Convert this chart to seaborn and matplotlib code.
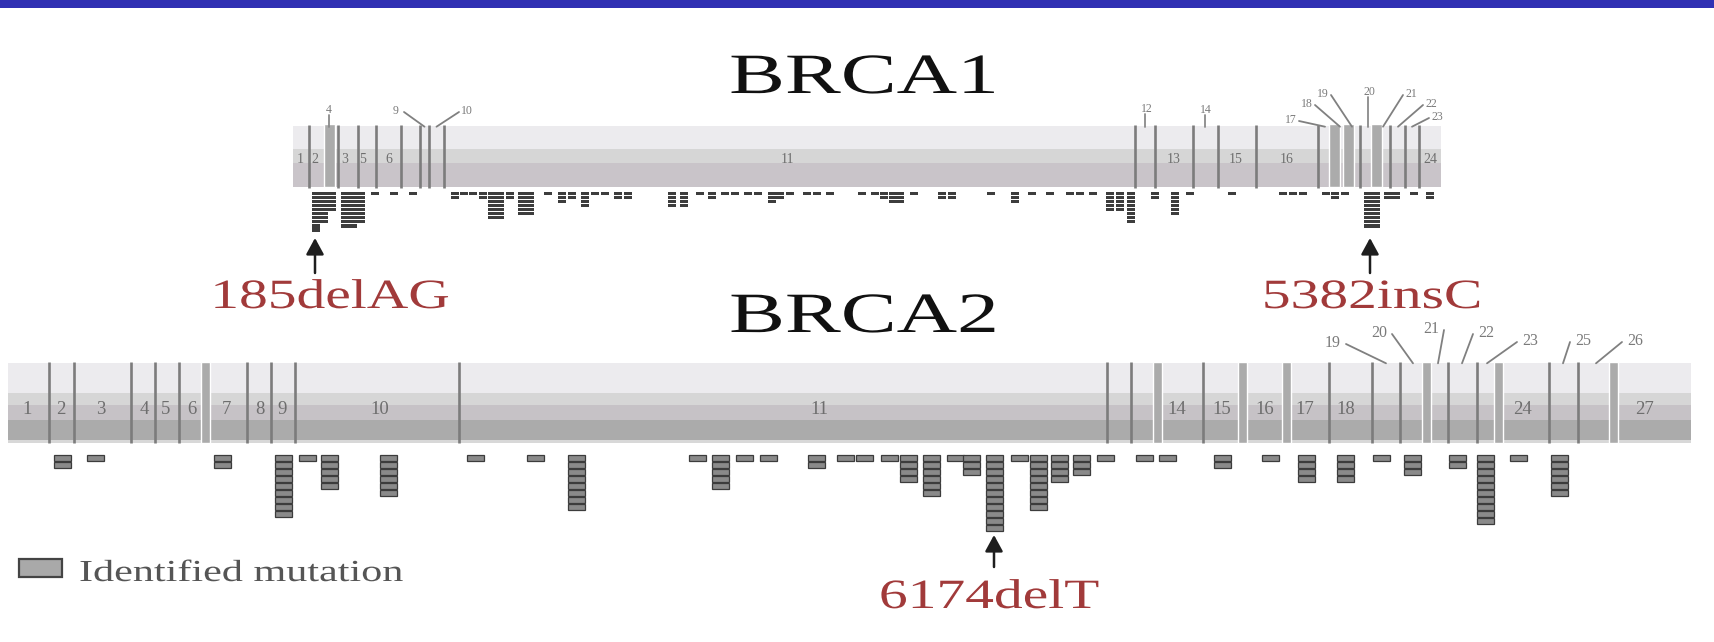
import numpy as np
import matplotlib
matplotlib.use("Agg")
import matplotlib.pyplot as plt
import matplotlib.colors as mcolors
from matplotlib.patches import Rectangle
from matplotlib.patheffects import AbstractPathEffect
from matplotlib.transforms import Affine2D
import seaborn as sns

# ------------------------------------------------------------------ data
# BRCA1 : positions along the drawn gene (relative units from the 5' end)
brca1_length = 1148
brca1_exon_bounds = [15.7, 45.2, 64.7, 83.4, 107.5, 126.7, 136.3, 150.8, 842.4, 862,
                     900.2, 924.5, 962.7, 1025.2, 1067.4, 1096.6, 1112, 1126.3]
brca1_small_exons = [36, 1041, 1055, 1083]
brca1_exon_labels = ["1", "2", "3", "5", "6", "11", "13", "15", "16", "24"]
brca1_exon_label_pos = [7, 22, 52, 70, 96, 494, 881, 943, 994, 1137]
brca1_tag_labels = ["4", "9", "10", "12", "14", "17", "18", "19", "20", "21", "22", "23"]
brca1_tag_target = [36, 131.5, 143.5, 852, 912, 1032, 1047, 1059, 1075, 1090, 1105, 1119]
brca1_mut_pos = [23, 31, 39, 52, 60, 68, 82, 101, 120, 162, 171, 180, 190, 199, 207, 217,
                 229, 237, 255, 269, 279, 292, 302, 312, 325, 335, 379, 391, 407, 419, 432,
                 442, 455, 465, 479, 487, 497, 514, 524, 537, 569, 582, 591, 600, 607, 621,
                 649, 659, 698, 722, 739, 757, 777, 787, 800, 817, 827, 838, 862, 882, 897,
                 939, 990, 1000, 1010, 1033, 1042, 1052, 1075, 1083, 1095, 1103, 1121, 1137]
brca1_mut_count = [10, 8, 5, 9, 9, 8, 1, 1, 1, 2, 1, 1, 2, 7, 7, 2,
                   6, 6, 1, 3, 2, 4, 1, 1, 2, 2, 4, 4, 1, 2, 1,
                   1, 1, 1, 3, 2, 1, 1, 1, 1, 1, 1, 2, 3, 3, 1,
                   2, 2, 1, 3, 1, 1, 1, 1, 1, 5, 5, 8, 2, 6, 1,
                   1, 1, 1, 1, 1, 2, 1, 9, 9, 2, 2, 1, 2]
brca1_hotspots = ["185delAG", "5382insC"]
brca1_hotspot_pos = [22, 1077]

# BRCA2
brca2_length = 1683
brca2_exon_bounds = [41, 66, 123.2, 147.2, 171.2, 238.9, 263, 286.8, 450.5, 1099, 1123.2,
                     1195.2, 1320.6, 1363.6, 1392.2, 1440.2, 1469, 1541.2, 1570]
brca2_small_exons = [197.7, 1149, 1234.5, 1278.5, 1418.5, 1490.5, 1605.3]
brca2_exon_labels = ["1", "2", "3", "4", "5", "6", "7", "8", "9", "10", "11",
                     "14", "15", "16", "17", "18", "24", "27"]
brca2_exon_label_pos = [19, 53, 93, 136, 158, 184, 218, 252, 274, 372, 811,
                        1169, 1214, 1257, 1297, 1338, 1515, 1637]
brca2_tag_labels = ["19", "20", "21", "22", "23", "25", "26"]
brca2_tag_target = [1378, 1405, 1430, 1454, 1479, 1555, 1588]
brca2_mut_pos = [54, 87, 214, 275, 299, 321, 380, 467, 527, 568, 689, 712, 736, 760, 808,
                 837, 856, 881, 900, 923, 947, 963, 986, 1011, 1030, 1051, 1073, 1097,
                 1136, 1159, 1214, 1262, 1298, 1337, 1373, 1404, 1449, 1477, 1510, 1551]
brca2_mut_count = [2, 1, 2, 9, 1, 5, 6, 1, 1, 8, 1, 5, 1, 1, 2,
                   1, 1, 1, 4, 6, 1, 3, 11, 1, 8, 4, 3, 1,
                   1, 1, 2, 1, 4, 4, 1, 3, 2, 10, 1, 6]
brca2_hotspots = ["6174delT"]
brca2_hotspot_pos = [986]

legend_label = "Identified mutation"

# ------------------------------------------------------------------ layout
W, H = 1714, 642
B1 = dict(x0=293, x1=1441, y0=85, y1=290)
B2 = dict(x0=8, x1=1691, y0=320, y1=575)
brca1_tag_x = [36, 103, 174, 854, 913, 998, 1014, 1030, 1076, 1118, 1138, 1144]
brca1_tag_ypx = [110, 111, 111, 109, 110, 120, 104, 94, 92, 94, 104, 117]
brca2_tag_x = [1325, 1371, 1423, 1478, 1522, 1575, 1627]
brca2_tag_ypx = [343, 333, 329, 333, 341, 341, 341]

sns.set_theme(style="white")
plt.rcParams["font.family"] = ["Liberation Serif", "DejaVu Serif"]

fig = plt.figure(figsize=(W / 100, H / 100), dpi=100, facecolor="white")


class HStretch(AbstractPathEffect):
    """Horizontally widen glyphs about the text anchor (text stays a Text artist)."""

    def __init__(self, sx):
        super().__init__()
        self.sx = sx
        self.text = None

    def draw_path(self, renderer, gc, tpath, affine, rgbFace=None):
        cx = self.text.get_transform().transform(self.text.get_position())[0]
        aff = affine + Affine2D().translate(-cx, 0).scale(self.sx, 1).translate(cx, 0)
        renderer.draw_path(gc, tpath, aff, rgbFace)


def stext(target, x, y, s, sx, **kw):
    t = target.text(x, y, s, **kw)
    pe = HStretch(sx)
    pe.text = t
    t.set_path_effects([pe])
    return t


def gene_axes(box, length):
    ax = fig.add_axes([box["x0"] / W, 1 - box["y1"] / H,
                       (box["x1"] - box["x0"]) / W, (box["y1"] - box["y0"]) / H])
    ax.set_xlim(0, length)
    ax.set_ylim(box["y1"] - box["y0"], 0)
    ax.axis("off")
    ax.patch.set_alpha(0)
    return ax


def band_image(spec):
    rows = []
    for color, n in spec:
        rows += [mcolors.to_rgb(color)] * n
    return np.array(rows)[:, None, :]


def draw_gene(ax, box, length, bar_px, bands, bounds, line_px, small, small_w, small_px,
              ex_labels, ex_pos, ex_base_px, ex_size, tags, tag_x, tag_ypx, tag_t, tag_size,
              tag_hw, mpos, mcount, mtop_px, unit, mh, mw, mface, medge, mlw,
              hs_names, hs_pos, arrow_px, hs_label_x, hs_base_px):
    y0 = box["y0"]
    top, bot = bar_px[0] - y0, bar_px[1] - y0
    ax.imshow(band_image(bands), extent=(0, length, bot, top), aspect="auto",
              interpolation="nearest", zorder=1)
    ax.set_xlim(0, length)
    ax.set_ylim(box["y1"] - y0, 0)
    # narrow exons shaded
    ax.bar(small, small_px[1] - small_px[0], bottom=small_px[0] - y0, width=small_w,
           color="#ababab", zorder=2)
    # exon boundaries
    ax.vlines(bounds, line_px[0] - y0, line_px[1] - y0, color="#7c7c7c", lw=1.9, zorder=3)
    # exon numbers inside the bar
    for lab, x in zip(ex_labels, ex_pos):
        ax.text(x, ex_base_px - y0, lab, ha="center", va="baseline", fontsize=ex_size,
                color="#6e6e6e", zorder=4)
    # exon numbers above the bar with leader lines
    for lab, lx, lypx, tx in zip(tags, tag_x, tag_ypx, tag_t):
        ly = lypx - y0
        ax.text(lx, ly, lab, ha="center", va="center", fontsize=tag_size,
                color="#7a7a7a", zorder=4)
        if abs(tx - lx) < 6:
            ax.plot([tx, tx], [ly + tag_size * 0.55, top], color="#8a8a8a", lw=1.3,
                    clip_on=False, zorder=3)
        else:
            sgn = np.sign(tx - lx)
            ax.plot([lx + sgn * tag_hw, tx], [ly + 1, top], color="#808080", lw=1.3,
                    clip_on=False, zorder=3)
    # identified mutations, stacked below the gene
    xs = np.repeat(mpos, mcount)
    ks = np.concatenate([np.arange(c) for c in mcount])
    ax.bar(xs, mh, bottom=mtop_px - y0 + ks * unit, width=mw, color=mface,
           edgecolor=medge, linewidth=mlw, zorder=3)
    # founder mutations
    for name, x, lx in zip(hs_names, hs_pos, hs_label_x):
        ax.annotate("", xy=(x, arrow_px[0] - y0), xytext=(x, arrow_px[1] - y0),
                    arrowprops=dict(arrowstyle="-|>,head_length=0.55,head_width=0.3",
                                    color="#1e1e1e", lw=1.8, mutation_scale=18,
                                    shrinkA=0, shrinkB=0), zorder=5)
        stext(ax, lx, hs_base_px - y0, name, 1.38, ha="center", va="baseline",
              fontsize=30, color="#a13a3a", zorder=5)


# top blue rule
fig.add_artist(Rectangle((0, 1 - 7.7 / H), 1, 7.7 / H, transform=fig.transFigure,
                         facecolor="#3030b3", edgecolor="none"))

# gene titles
stext(fig, 864 / W, 1 - 93 / H, "BRCA1", 1.47, ha="center", va="baseline",
      fontsize=41, color="#111111")
stext(fig, 864 / W, 1 - 332 / H, "BRCA2", 1.47, ha="center", va="baseline",
      fontsize=41, color="#111111")

ax1 = gene_axes(B1, brca1_length)
draw_gene(ax1, B1, brca1_length, (126.7, 187.3),
          [("#ecebee", 23), ("#d6d6d6", 13), ("#c9c4c9", 24)],
          brca1_exon_bounds, (125, 188), brca1_small_exons, 11, (124, 187.3),
          brca1_exon_labels, brca1_exon_label_pos, 163, 10,
          brca1_tag_labels, brca1_tag_x, brca1_tag_ypx, brca1_tag_target, 8.5, 8,
          brca1_mut_pos, brca1_mut_count, 191.5, 4.1, 3.3, 8, "#3d3d3d", "none", 0,
          brca1_hotspots, brca1_hotspot_pos, (238, 273), [37, 1079], 308)

ax2 = gene_axes(B2, brca2_length)
draw_gene(ax2, B2, brca2_length, (363.3, 443),
          [("#ecebee", 30), ("#d6d6d6", 12), ("#c6c2c6", 15), ("#ababab", 20),
           ("#d8d8d8", 3)],
          brca2_exon_bounds, (362, 443), brca2_small_exons, 9, (362, 443),
          brca2_exon_labels, brca2_exon_label_pos, 414, 13.5,
          brca2_tag_labels, brca2_tag_x, brca2_tag_ypx, brca2_tag_target, 11.5, 13,
          brca2_mut_pos, brca2_mut_count, 455, 7.0, 6.4, 17, "#8a8a8a", "#3c3c3c", 0.9,
          brca2_hotspots, brca2_hotspot_pos, (535, 567), [981], 608)

# legend
fig.add_artist(Rectangle((19 / W, 1 - 577 / H), 43 / W, 18 / H, transform=fig.transFigure,
                         facecolor="#a9a9a9", edgecolor="#444444", lw=1.6))
stext(fig, 79 / W, 1 - 581 / H, legend_label, 1.38, ha="left", va="baseline",
      fontsize=22, color="#555555")

fig.savefig("out.png", dpi=100, facecolor="white")
